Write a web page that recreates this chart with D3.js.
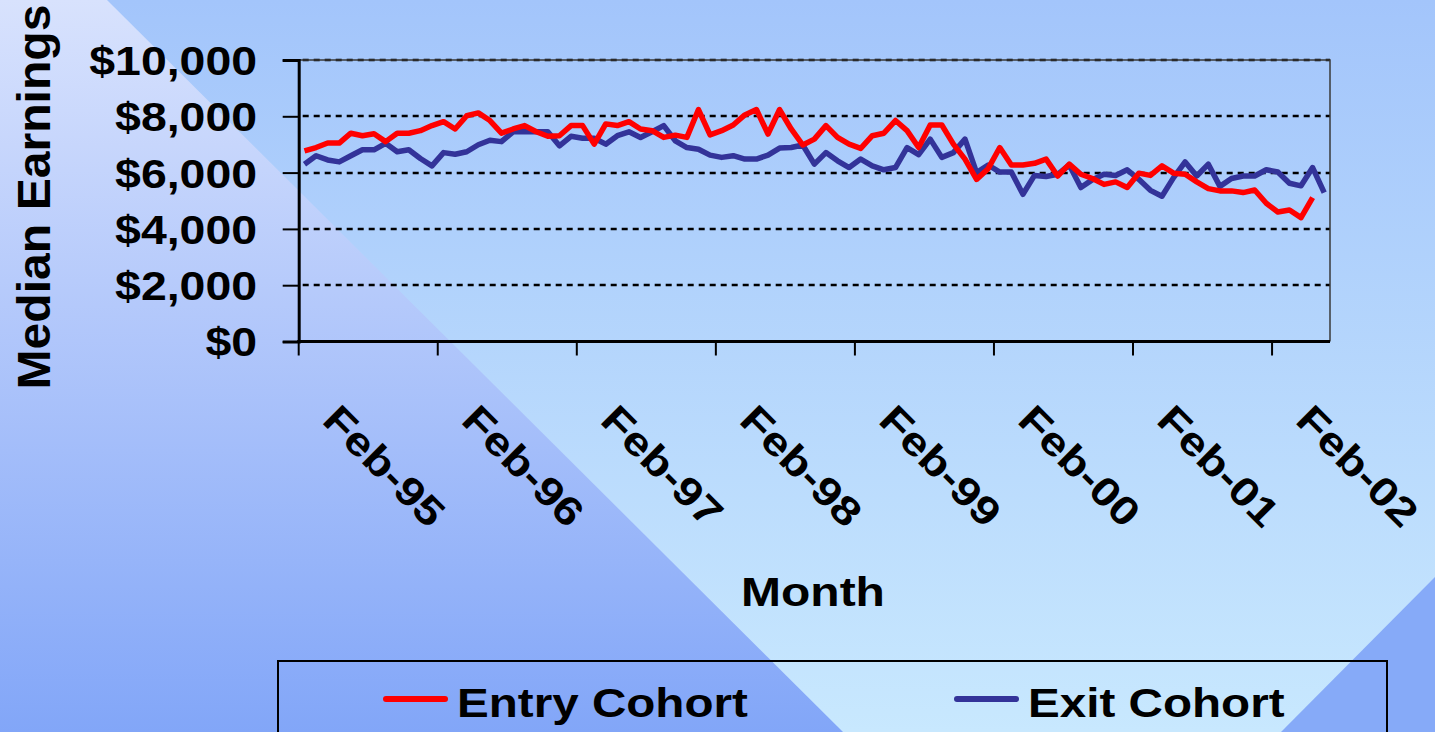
<!DOCTYPE html>
<html>
<head>
<meta charset="utf-8">
<script src="https://cdn.jsdelivr.net/npm/d3@7"></script>
<style>
  html, body { margin: 0; padding: 0; overflow: hidden; }
  text { font-family: Arial, "Liberation Sans", sans-serif; font-weight: bold; fill: #000; }
</style>
</head>
<body>
<div id="chart"></div>
<script>
// month categories, Feb-95 .. Jun-02
var months = d3.timeMonth.range(new Date(1995, 1, 1), new Date(2002, 6, 1));

// median earnings
var entryCohort = [
  6770, 6890, 7050, 7050, 7400, 7310, 7380, 7100, 7400, 7400, 7490, 7670,
  7810, 7550, 8020, 8120, 7850, 7400, 7550, 7670, 7450, 7290, 7310, 7670,
  7670, 7010, 7730, 7670, 7810, 7550, 7490, 7250, 7330, 7250, 8240, 7340,
  7490, 7690, 8050, 8240, 7370, 8240, 7550, 6980, 7190, 7670, 7250, 7010,
  6860, 7310, 7400, 7850, 7490, 6890, 7690, 7690, 7010, 6480, 5760, 6140,
  6890, 6270, 6270, 6330, 6480, 5880, 6300, 5940, 5790, 5580, 5670, 5470,
  5980, 5900, 6240, 5980, 5940, 5670, 5430, 5350, 5350, 5290, 5380, 4910,
  4600, 4670, 4400, 5110
];
var exitCohort = [
  6300, 6600, 6450, 6380, 6600, 6810, 6810, 7040, 6740, 6810, 6500, 6240,
  6710, 6650, 6740, 6990, 7150, 7100, 7450, 7450, 7450, 7450, 6950, 7290,
  7220, 7220, 7010, 7310, 7450, 7250, 7450, 7670, 7130, 6890, 6830, 6620,
  6540, 6600, 6480, 6480, 6620, 6870, 6890, 6980, 6300, 6710, 6420, 6180,
  6480, 6240, 6100, 6180, 6890, 6640, 7190, 6540, 6710, 7190, 6000, 6270,
  6020, 6020, 5230, 5900, 5860, 5940, 6270, 5470, 5750, 5940, 5900, 6100,
  5760, 5370, 5160, 5820, 6380, 5880, 6300, 5510, 5790, 5880, 5880, 6100,
  6020, 5620, 5530, 6180, 5290
];
var yTicks = [0, 2000, 4000, 6000, 8000, 10000];
var seriesNames = ["Entry Cohort", "Exit Cohort"];
var seriesColors = ["#ff0000", "#333399"];

var W = 1435, H = 732;
var fmtMonth = d3.timeFormat("%b-%y");
var fmtMoney = d3.format("$,");

var svg = d3.select("#chart").append("svg")
    .attr("width", W)
    .attr("height", H);

// ---------- background ----------
var defs = svg.append("defs");
function vgrad(id, c0, c1) {
  var g = defs.append("linearGradient").attr("id", id)
      .attr("x1", 0).attr("y1", 0).attr("x2", 0).attr("y2", 1)
      .attr("gradientUnits", "objectBoundingBox");
  g.append("stop").attr("offset", "0%").attr("stop-color", c0);
  g.append("stop").attr("offset", "100%").attr("stop-color", c1);
}
vgrad("gLeft", "#d8e2fd", "#82a6f8");
vgrad("gRight", "#a3c5fb", "#c8e8fe");

svg.append("rect").attr("width", W).attr("height", H).attr("fill", "url(#gRight)");
svg.append("path")
    .attr("d", "M0,0 L107,0 L843,732 L0,732 Z")
    .attr("fill", "url(#gLeft)");
svg.append("path")
    .attr("d", "M1435,577 L1435,732 L1281,732 Z")
    .attr("fill", "#86aaf8");

// ---------- scales ----------
var plot = {left: 298.7, right: 1330, top: 60, bottom: 341.5};

var x = d3.scaleBand()
    .domain(months.map(function(d, i) { return i; }))
    .range([plot.left, plot.right])
    .padding(0);

var y = d3.scaleLinear()
    .domain([0, 10000])
    .range([plot.bottom, plot.top]);

function cx(i) { return x(i) + x.bandwidth() / 2; }

// stretch text a bit, the source is wider than Arial
function stretch(sel, k) {
  sel.each(function() {
    var len = this.getComputedTextLength();
    d3.select(this).attr("textLength", len * k).attr("lengthAdjust", "spacingAndGlyphs");
  });
}

// ---------- grid ----------
svg.append("g").selectAll("line")
    .data(yTicks.filter(function(d) { return d > 0; }))
  .enter().append("line")
    .attr("x1", plot.left + 4).attr("x2", plot.right)
    .attr("y1", function(d) { return Math.round(y(d)); })
    .attr("y2", function(d) { return Math.round(y(d)); })
    .attr("stroke", "#000")
    .attr("stroke-width", 2.5)
    .attr("stroke-dasharray", "6,5");

// plot border (top / right)
svg.append("path")
    .attr("d", "M" + plot.left + "," + plot.top + " L" + plot.right + "," + plot.top +
               " L" + plot.right + "," + plot.bottom)
    .attr("fill", "none")
    .attr("stroke", "#3a3a3a")
    .attr("stroke-width", 1.5);

// ---------- y axis ----------
var yAxis = svg.append("g")
    .attr("transform", "translate(" + plot.left + ",0)")
    .call(d3.axisLeft(y).tickValues(yTicks).tickSize(16).tickFormat(fmtMoney));
yAxis.select(".domain").attr("stroke", "#000").attr("stroke-width", 3);
yAxis.selectAll(".tick line").attr("stroke", "#000").attr("stroke-width", 2);
yAxis.selectAll(".tick text")
    .attr("x", -41.7)
    .attr("dy", "0.36em")
    .style("font-size", "40px")
    .style("font-family", "Arial, 'Liberation Sans', sans-serif")
    .style("font-weight", "bold")
    .call(stretch, 1.16);

// ---------- x axis ----------
var xTickIdx = months.map(function(d, i) { return i; })
    .filter(function(i) { return i % 12 === 0; });

var xAxis = svg.append("g").attr("class", "xaxis");
xAxis.append("line")
    .attr("x1", plot.left - 1.5).attr("x2", plot.right)
    .attr("y1", plot.bottom).attr("y2", plot.bottom)
    .attr("stroke", "#000").attr("stroke-width", 3);
xAxis.selectAll("line.tick")
    .data(xTickIdx)
  .enter().append("line")
    .attr("class", "tick")
    .attr("x1", function(i) { return x(i); })
    .attr("x2", function(i) { return x(i); })
    .attr("y1", plot.bottom)
    .attr("y2", plot.bottom + 14)
    .attr("stroke", "#000").attr("stroke-width", 2);
xAxis.selectAll("text")
    .data(xTickIdx)
  .enter().append("text")
    .attr("transform", function(i) {
      return "translate(" + (x(i) + 22) + "," + 422 + ") rotate(45)";
    })
    .style("font-size", "40px")
    .text(function(i) { return fmtMonth(months[i]); })
    .call(stretch, 1.18);

// ---------- lines ----------
var line = d3.line()
    .x(function(d, i) { return cx(i); })
    .y(function(d) { return y(d); });

svg.append("path")
    .datum(exitCohort)
    .attr("d", line)
    .attr("fill", "none")
    .attr("stroke", seriesColors[1])
    .attr("stroke-width", 5.5)
    .attr("stroke-linejoin", "round");

svg.append("path")
    .datum(entryCohort)
    .attr("d", line)
    .attr("fill", "none")
    .attr("stroke", seriesColors[0])
    .attr("stroke-width", 5.5)
    .attr("stroke-linejoin", "round");

// ---------- titles ----------
svg.append("text")
    .attr("transform", "translate(50,197) rotate(-90)")
    .attr("text-anchor", "middle")
    .style("font-size", "46px")
    .text("Median Earnings")
    .attr("textLength", 385)
    .attr("lengthAdjust", "spacingAndGlyphs");

svg.append("text")
    .attr("x", 813)
    .attr("y", 606)
    .attr("text-anchor", "middle")
    .style("font-size", "40px")
    .text("Month")
    .call(stretch, 1.2);

// ---------- legend ----------
var legend = svg.append("g");
legend.append("rect")
    .attr("x", 278).attr("y", 661)
    .attr("width", 1109).attr("height", 120)
    .attr("fill", "none")
    .attr("stroke", "#000")
    .attr("stroke-width", 2);

var legX = [386, 957];
var item = legend.selectAll("g.item")
    .data(seriesNames)
  .enter().append("g")
    .attr("class", "item")
    .attr("transform", function(d, i) { return "translate(" + legX[i] + ",0)"; });
item.append("line")
    .attr("x1", 0).attr("x2", 59)
    .attr("y1", 699).attr("y2", 699)
    .attr("stroke", function(d, i) { return seriesColors[i]; })
    .attr("stroke-width", 6)
    .attr("stroke-linecap", "round");
item.append("text")
    .attr("x", 71)
    .attr("y", 717)
    .style("font-size", "40px")
    .text(function(d) { return d; })
    .call(stretch, 1.19);
</script>
</body>
</html>
